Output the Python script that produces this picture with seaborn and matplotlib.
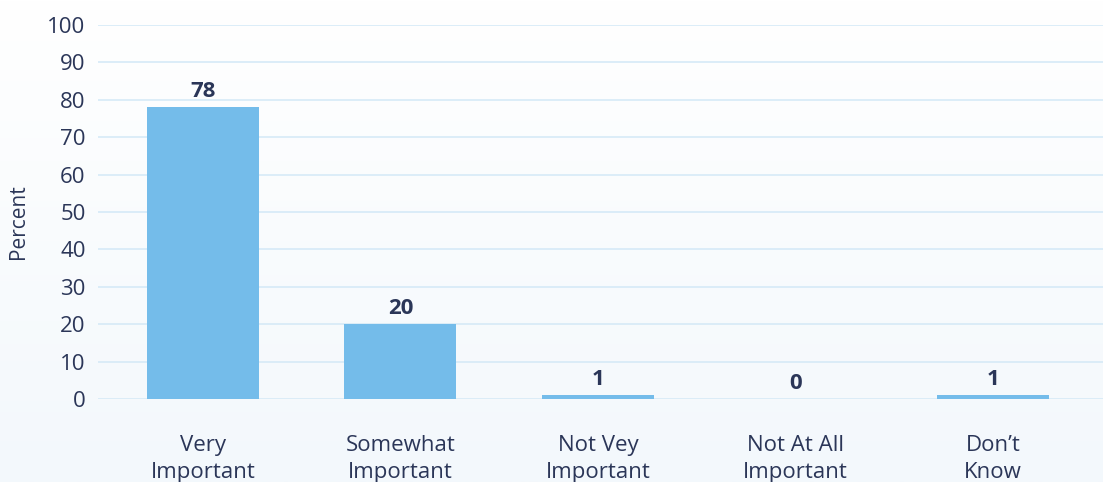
import numpy as np
import pandas as pd
import matplotlib
matplotlib.use("Agg")
import matplotlib.pyplot as plt
import seaborn as sns

categories = ["Very\nImportant", "Somewhat\nImportant", "Not Vey\nImportant",
              "Not At All\nImportant", "Don’t\nKnow"]
percent = [78, 20, 1, 0, 1]
y_ticks = [0, 10, 20, 30, 40, 50, 60, 70, 80, 90, 100]

df = pd.DataFrame({"category": categories, "percent": percent})

sns.set_theme(style="white")
plt.rcParams["font.family"] = ["Open Sans", "DejaVu Sans"]

text_color = "#2B3658"
bar_color = "#74BCEA"
grid_color = "#D6EAF7"

fig = plt.figure(figsize=(11.03, 4.82), dpi=100)

# soft vertical background wash
bg = fig.add_axes([0, 0, 1, 1], zorder=-10)
grad = np.linspace(0, 1, 256).reshape(-1, 1)
top = np.array([1.0, 1.0, 1.0])
bottom = np.array([0xF3, 0xF8, 0xFC]) / 255
img = top + (bottom - top) * grad[..., None]
bg.imshow(img, aspect="auto", extent=[0, 1, 0, 1], origin="upper")
bg.axis("off")

ax = fig.add_axes([0.089, 0.172, 0.911, 0.776])
ax.patch.set_alpha(0)

sns.barplot(data=df, x="category", y="percent", color=bar_color,
            width=0.567, saturation=1, linewidth=0, ax=ax, zorder=3)

ax.set_ylim(0, 100)
ax.set_xlim(-0.53, 4.557)
ax.set_yticks(y_ticks)
ax.yaxis.grid(True, color=grid_color, linewidth=1.2, zorder=0)
ax.xaxis.grid(False)
for s in ax.spines.values():
    s.set_visible(False)

ax.tick_params(axis="y", labelsize=16, colors=text_color, pad=9, length=0)
ax.tick_params(axis="x", labelsize=16, colors=text_color, pad=26, length=0)
for lbl in ax.get_xticklabels():
    lbl.set_linespacing(1.35)
ax.set_xlabel("")
ax.set_ylabel("")
fig.text(18 / 1103, 1 - 222 / 482, "Percent", rotation=90, ha="center", va="center",
         fontsize=15, color=text_color)

for container in ax.containers:
    ax.bar_label(container, labels=[f"{v}" for v in percent], padding=4,
                 fontsize=16, fontweight="bold", color=text_color)

fig.savefig("out.png", dpi=100)
